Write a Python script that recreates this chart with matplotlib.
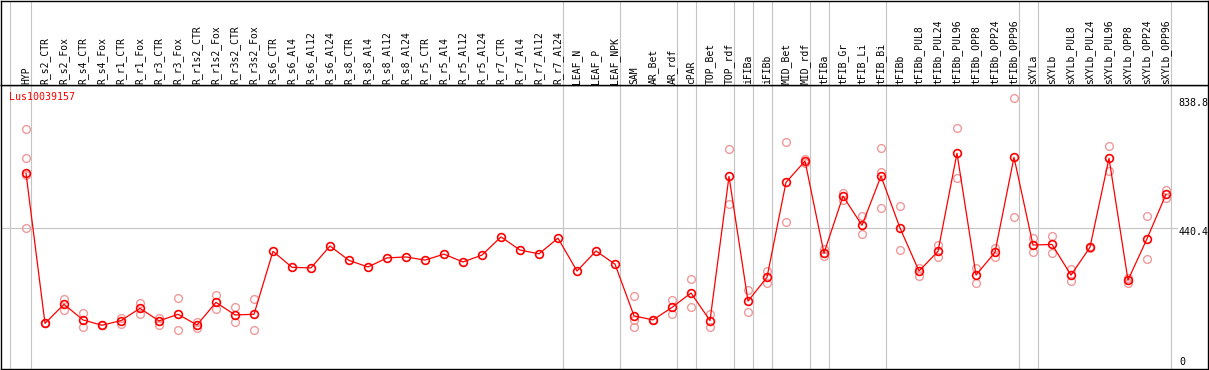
import matplotlib
matplotlib.use("Agg")
import matplotlib.pyplot as plt

W, H = 1209, 370

samples = ["HYP", "R_s2_CTR", "R_s2_Fox", "R_s4_CTR", "R_s4_Fox", "R_r1_CTR", "R_r1_Fox",
           "R_r3_CTR", "R_r3_Fox", "R_r1s2_CTR", "R_r1s2_Fox", "R_r3s2_CTR", "R_r3s2_Fox",
           "R_s6_CTR", "R_s6_Al4", "R_s6_Al12", "R_s6_Al24", "R_s8_CTR", "R_s8_Al4",
           "R_s8_Al12", "R_s8_Al24", "R_r5_CTR", "R_r5_Al4", "R_r5_Al12", "R_r5_Al24",
           "R_r7_CTR", "R_r7_Al4", "R_r7_Al12", "R_r7_Al24", "LEAF_N", "LEAF_P", "LEAF_NPK",
           "SAM", "AR_Bet", "AR_rdf", "cPAR", "TOP_Bet", "TOP_rdf", "iFIBa", "iFIBb",
           "MID_Bet", "MID_rdf", "tFIBa", "tFIB_Gr", "tFIB_Li", "tFIB_Bi", "tFIBb",
           "tFIBb_PUL8", "tFIBb_PUL24", "tFIBb_PUL96", "tFIBb_OPP8", "tFIBb_OPP24",
           "tFIBb_OPP96", "sXYLa", "sXYLb", "sXYLb_PUL8", "sXYLb_PUL24", "sXYLb_PUL96",
           "sXYLb_OPP8", "sXYLb_OPP24", "sXYLb_OPP96"]

means = [615, 136, 197, 147, 130, 145, 184, 144, 165, 131, 203, 163, 165,
         366, 315, 313, 383, 337, 316, 345, 348, 338, 357, 332, 354,
         412, 370, 358, 408, 303, 367, 325,
         160, 147, 187, 233, 145, 605, 207, 283, 586, 654,
         360, 542, 449, 606, 440.4, 303, 366, 679, 290, 363, 666,
         386, 388, 290, 379, 663, 274, 406, 548]

replicates = [
    [755, 663, 609, 439], [136, 137], [214, 179], [170, 124], [130, 131],
    [153, 134], [202, 165], [154, 131], [216, 115], [141, 122], [227, 181],
    [187, 140], [213, 115],
    [], [], [], [], [], [], [], [], [], [], [], [],
    [], [], [], [], [], [], [],
    [223, 147, 125], [146, 148], [211, 166], [277, 187], [166, 124],
    [692, 516], [243, 172], [303, 264], [714, 459], [661, 647],
    [374, 352], [553, 530], [479, 420], [695, 620, 503], [510, 370],
    [314, 288], [386, 349], [759, 599], [314, 266], [376, 349], [854, 475],
    [409, 365], [415, 362], [309, 272], [378, 380], [702, 623], [280, 266],
    [479, 341], [562, 535],
]

group_lines = [-0.84, 0, 28, 31, 34, 35, 37, 38, 39, 41, 42, 45, 52, 53, 60]
ref_value = 440.4
ytick_labels = ["838.8", "440.4", "0"]

title = "Lus10039157"

# pixel geometry helpers
x0_pix, dx_pix = 26.0, 19.0
zero_pix, scale = 366.0, 0.31335  # y pixel of value 0, pixels per unit

ax_left, ax_right = 1.0, 1208.0
ax_top, ax_bot = 85.0, 369.0

fig = plt.figure(figsize=(W / 100, H / 100), dpi=100)
ax = fig.add_axes([ax_left / W, (H - ax_bot) / H, (ax_right - ax_left) / W, (ax_bot - ax_top) / H])
hx = fig.add_axes([ax_left / W, (H - ax_top) / H, (ax_right - ax_left) / W, (ax_top - 0.5) / H])

xlim = ((ax_left - x0_pix) / dx_pix, (ax_right - x0_pix) / dx_pix)
ylim = ((zero_pix - ax_bot) / scale, (zero_pix - ax_top) / scale)
for a in (ax, hx):
    a.set_xlim(*xlim)
    a.set_xticks([])
    a.set_yticks([])
    for s in a.spines.values():
        s.set_color("black")
        s.set_linewidth(1.0)
ax.set_ylim(*ylim)
hx.set_ylim(0, 1)

grid_c = "#c4c4c4"
for g in group_lines:
    xg = g + 4.5 / dx_pix if g >= 0 else g
    ax.axvline(xg, color=grid_c, lw=0.8, zorder=1)
    hx.axvline(xg, color=grid_c, lw=0.8, zorder=1)

xmax_frac = (1177 - ax_left) / (ax_right - ax_left)
ax.axhline(ref_value, xmin=0, xmax=xmax_frac, color=grid_c, lw=0.8, zorder=1)

xs = list(range(len(samples)))
rx, ry = [], []
for i, reps in enumerate(replicates):
    for r in reps:
        rx.append(i)
        ry.append(r)
ax.plot(rx, ry, linestyle="none", marker="o", ms=5.6, mfc="none", mec="#f09a9a", mew=1.0, zorder=2)
ax.plot(xs, means, color="red", lw=0.9, marker="o", ms=5.6, mfc="none", mec="red", mew=1.2, zorder=3)

mono = "DejaVu Sans Mono"
for i, s in enumerate(samples):
    hx.text(i, (ax_top - 83.5) / ax_top, s, rotation=90, ha="center", va="bottom",
            fontsize=7.0, family=mono, color="black")

def ypix_to_axes(yp):
    return (ax_bot - yp) / (ax_bot - ax_top)

ax.text((9.5 - ax_left) / (ax_right - ax_left), ypix_to_axes(97), title, transform=ax.transAxes,
        ha="left", va="center", fontsize=7.2, family=mono, color="red")

label_pos = [(1178, 103), (1179, 232), (1179, 362)]
for lab, (xp, yp) in zip(ytick_labels, label_pos):
    ax.text((xp - ax_left) / (ax_right - ax_left), ypix_to_axes(yp), lab, transform=ax.transAxes,
            ha="left", va="center", fontsize=7.2, family=mono, color="black", clip_on=False)

fig.savefig("out.png", dpi=100)
